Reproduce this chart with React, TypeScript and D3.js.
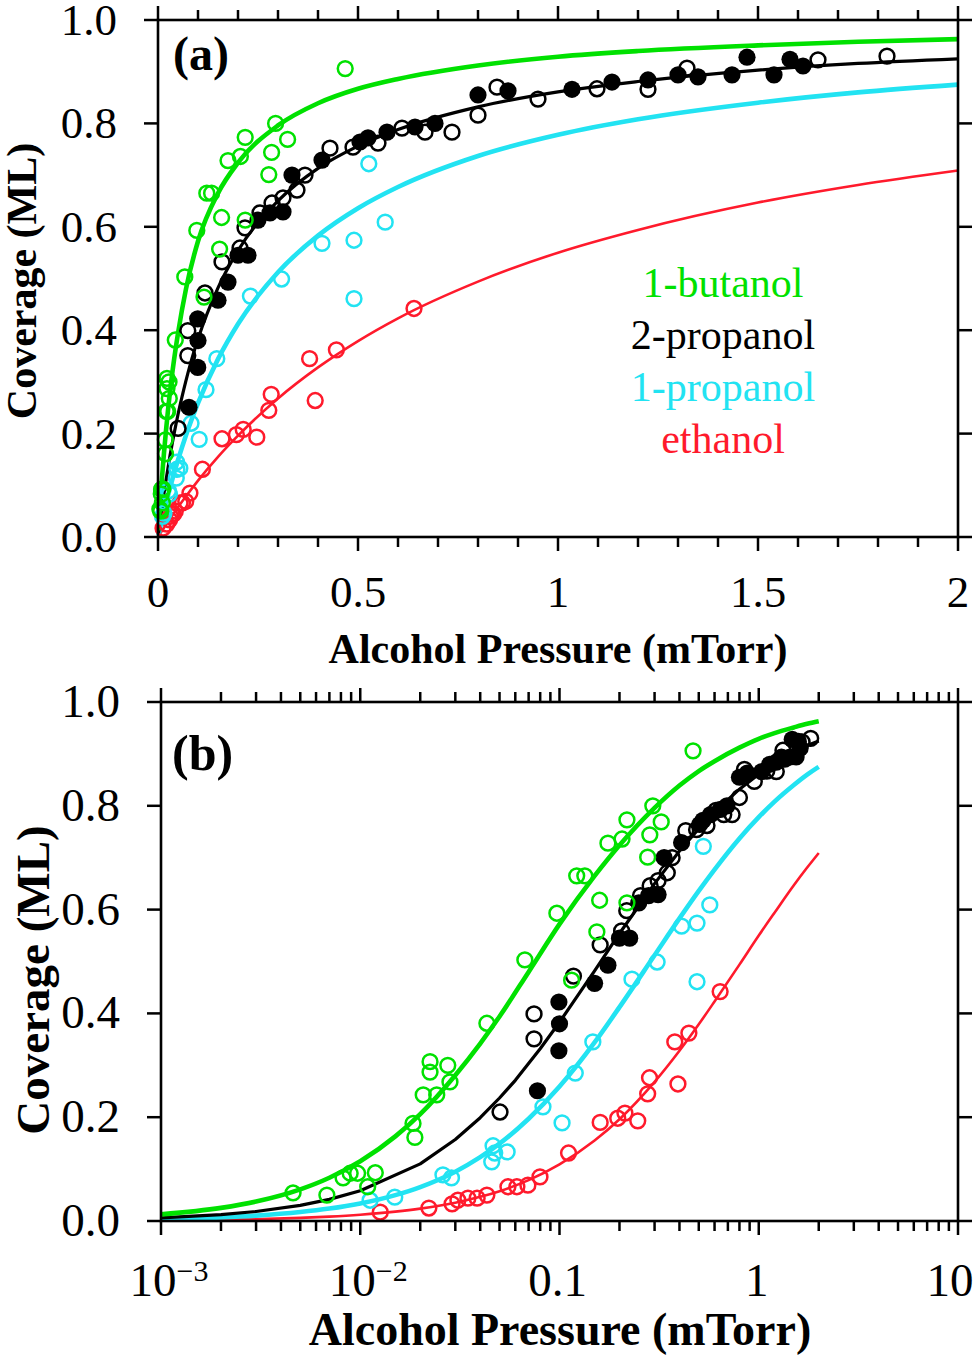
import React from 'react';
import * as d3 from 'd3';

// ---------- fitted curves ----------
const FIT_P = [0.001, 0.002, 0.003, 0.005, 0.007, 0.01, 0.015, 0.02, 0.03, 0.04, 0.05, 0.07, 0.1, 0.15, 0.2, 0.3, 0.4, 0.5, 0.6, 0.8, 1.0, 1.2, 1.5, 1.75, 2.0];
const BUTANOL_FIT = [0.0128, 0.0253, 0.0375, 0.061, 0.0834, 0.115, 0.163, 0.206, 0.281, 0.342, 0.394, 0.48, 0.572, 0.665, 0.724, 0.796, 0.839, 0.867, 0.886, 0.912, 0.929, 0.94, 0.951, 0.958, 0.963];
const PROPANOL1_FIT = [0.0035, 0.007, 0.0104, 0.0172, 0.0239, 0.0338, 0.0499, 0.0654, 0.095, 0.123, 0.149, 0.197, 0.259, 0.344, 0.412, 0.512, 0.583, 0.636, 0.677, 0.737, 0.778, 0.808, 0.84, 0.86, 0.875];
const ETHANOL_FIT = [0.0012, 0.0024, 0.0037, 0.0061, 0.0085, 0.0121, 0.018, 0.0238, 0.0353, 0.0465, 0.0575, 0.0787, 0.109, 0.155, 0.196, 0.268, 0.328, 0.379, 0.423, 0.494, 0.55, 0.594, 0.647, 0.681, 0.709];
const PROPANOL2_FIT_P = [0.001, 0.002, 0.003, 0.005, 0.007, 0.01, 0.02, 0.03, 0.04, 0.05, 0.06, 0.08, 0.1, 0.15, 0.2, 0.3, 0.4, 0.5, 0.6, 0.8, 1.0, 1.2, 1.5, 1.75, 2.0];
const PROPANOL2_FIT = [0.0062, 0.0122, 0.0183, 0.03, 0.0416, 0.0584, 0.11, 0.157, 0.199, 0.237, 0.271, 0.332, 0.383, 0.482, 0.554, 0.65, 0.713, 0.756, 0.788, 0.832, 0.861, 0.881, 0.903, 0.916, 0.925];

// ---------- measured points [pressure (mTorr), coverage (ML)] ----------
const BUTANOL_PTS: [number, number][] = [
  [0.0046, 0.054], [0.0068, 0.05], [0.0082, 0.083], [0.0089, 0.092], [0.0097, 0.092], [0.0109, 0.066],
  [0.0119, 0.093], [0.0184, 0.188], [0.0188, 0.161], [0.0207, 0.243], [0.0224, 0.307], [0.0224, 0.287],
  [0.0242, 0.243], [0.0275, 0.3], [0.0282, 0.268], [0.0432, 0.381], [0.067, 0.503], [0.097, 0.593],
  [0.115, 0.464], [0.122, 0.665], [0.134, 0.665], [0.154, 0.557], [0.159, 0.618], [0.175, 0.728],
  [0.206, 0.736], [0.218, 0.773], [0.218, 0.613], [0.277, 0.701], [0.284, 0.744], [0.294, 0.8],
  [0.324, 0.769], [0.468, 0.906],
];
const PROPANOL1_PTS: [number, number][] = [
  [0.0112, 0.04], [0.0149, 0.046], [0.026, 0.089], [0.0287, 0.083], [0.0457, 0.114], [0.0464, 0.145],
  [0.0473, 0.131], [0.0546, 0.133], [0.0826, 0.22], [0.103, 0.189], [0.12, 0.285], [0.147, 0.345],
  [0.231, 0.466], [0.309, 0.499], [0.41, 0.568], [0.49, 0.574], [0.49, 0.461], [0.527, 0.722], [0.568, 0.609],
];
const ETHANOL_PTS: [number, number][] = [
  [0.0126, 0.017], [0.0221, 0.025], [0.0289, 0.033], [0.0309, 0.04], [0.0347, 0.044], [0.0386, 0.044],
  [0.0432, 0.05], [0.0551, 0.066], [0.0611, 0.066], [0.0694, 0.069], [0.0798, 0.085], [0.111, 0.131],
  [0.16, 0.19], [0.196, 0.198], [0.213, 0.208], [0.247, 0.193], [0.277, 0.245], [0.283, 0.276],
  [0.379, 0.345], [0.393, 0.264], [0.446, 0.362], [0.64, 0.442],
];
const PROPANOL2_OPEN_PTS: [number, number][] = [
  [0.0503, 0.21], [0.0745, 0.399], [0.0745, 0.351], [0.1175, 0.472], [0.16, 0.532], [0.205, 0.559],
  [0.2175, 0.598], [0.255, 0.627], [0.285, 0.646], [0.3125, 0.656], [0.3475, 0.671], [0.3675, 0.7],
  [0.43, 0.752], [0.4875, 0.754], [0.55, 0.762], [0.61, 0.791], [0.6675, 0.783], [0.735, 0.783],
  [0.8, 0.816], [0.8475, 0.87], [0.95, 0.847], [1.0975, 0.867], [1.225, 0.866], [1.3225, 0.907],
  [1.65, 0.923], [1.8225, 0.93],
];
const PROPANOL2_FILLED_PTS: [number, number][] = [
  [0.0775, 0.251], [0.0993, 0.328], [0.1, 0.38], [0.0993, 0.422], [0.15, 0.458], [0.175, 0.493],
  [0.2, 0.545], [0.225, 0.545], [0.25, 0.613], [0.28, 0.627], [0.3125, 0.629], [0.335, 0.7],
  [0.41, 0.729], [0.505, 0.764], [0.525, 0.772], [0.5725, 0.783], [0.6425, 0.793], [0.6925, 0.8],
  [0.8, 0.855], [0.875, 0.863], [1.035, 0.866], [1.135, 0.88], [1.225, 0.884], [1.3, 0.894],
  [1.35, 0.89], [1.435, 0.894], [1.4725, 0.928], [1.54, 0.894], [1.58, 0.924], [1.6125, 0.911],
];

// ---------- axes ----------
const Y_TICKS = [0, 0.2, 0.4, 0.6, 0.8, 1.0];
const XA_MAJOR = [0, 0.5, 1, 1.5, 2];
const XA_LABELS = ['0', '0.5', '1', '1.5', '2'];
const XB_DECADES = [-3, -2, -1, 0, 1];
const XB_LABELS: [string, string][] = [['10', '−3'], ['10', '−2'], ['0.1', ''], ['1', ''], ['10', '']];
const LEGEND = ['1-butanol', '2-propanol', '1-propanol', 'ethanol'];

const GREEN = '#00e100';
const CYAN = '#22e3f2';
const RED = '#ff1a2c';
const BLACK = '#000000';
const FONT = '"Liberation Serif", "Times New Roman", Times, serif';

type Curve = { p: number[]; v: number[]; color: string; width: number; linearInLog?: boolean };
const CURVES: Curve[] = [
  { p: FIT_P, v: ETHANOL_FIT, color: RED, width: 2.6 },
  { p: FIT_P, v: PROPANOL1_FIT, color: CYAN, width: 4.6 },
  { p: PROPANOL2_FIT_P, v: PROPANOL2_FIT, color: BLACK, width: 3.2, linearInLog: true },
  { p: FIT_P, v: BUTANOL_FIT, color: GREEN, width: 4.6 },
];
type PtSet = { pts: [number, number][]; color: string; filled?: boolean };
const POINTS: PtSet[] = [
  { pts: ETHANOL_PTS, color: RED },
  { pts: PROPANOL1_PTS, color: CYAN },
  { pts: PROPANOL2_OPEN_PTS, color: BLACK },
  { pts: PROPANOL2_FILLED_PTS, color: BLACK, filled: true },
  { pts: BUTANOL_PTS, color: GREEN },
];

function Panel({ log }: { log: boolean }) {
  const top = log ? 702 : 20;
  const bottom = log ? 1221 : 537;
  const left = log ? 161 : 158;
  const right = 958;
  const x: any = log
    ? d3.scaleLog().domain([0.001, 10]).range([left, right])
    : d3.scaleLinear().domain([0, 2]).range([left, right]);
  const y = d3.scaleLinear().domain([0, 1]).range([bottom, top]);
  const tickFont = log ? 47 : 45;
  const titleFont = log ? 46 : 42;

  // x ticks
  const ticks: { v: number; major: boolean }[] = [];
  if (log) {
    XB_DECADES.forEach((d) => {
      ticks.push({ v: Math.pow(10, d), major: true });
      if (d < 1) for (let k = 2; k <= 9; k++) ticks.push({ v: k * Math.pow(10, d), major: false });
    });
  } else {
    d3.range(0, 21).forEach((i) => ticks.push({ v: i / 10, major: i % 5 === 0 }));
  }

  const labelShift = (i: number, sup: string) => (sup ? 8 : i === XB_DECADES.length - 1 ? -8 : -2);

  return (
    <g>
      {/* curves */}
      {CURVES.map((c, i) => {
        const gen = d3
          .line<number>()
          .x((_, j) => x(c.p[j]))
          .y((v) => y(v))
          .curve(log && c.linearInLog ? d3.curveLinear : d3.curveMonotoneX);
        return <path key={'c' + i} d={gen(c.v) || ''} fill="none" stroke={c.color} strokeWidth={c.width} strokeLinejoin="round" />;
      })}
      {/* points */}
      {POINTS.map((s, i) => (
        <g key={'p' + i}>
          {s.pts.map(([p, v], j) => (
            <circle
              key={j}
              cx={x(p)}
              cy={y(v)}
              r={s.filled ? 8.6 : 7.4}
              fill={s.filled ? s.color : 'none'}
              stroke={s.color}
              strokeWidth={s.filled ? 0 : 2.5}
            />
          ))}
        </g>
      ))}
      {/* frame */}
      <rect x={left} y={top} width={right - left} height={bottom - top} fill="none" stroke="#000" strokeWidth={2.6} />
      {/* y ticks */}
      {Y_TICKS.map((t) => (
        <g key={'y' + t}>
          <line x1={left - 14} x2={left} y1={y(t)} y2={y(t)} stroke="#000" strokeWidth={2.5} />
          <line x1={right} x2={right + 14} y1={y(t)} y2={y(t)} stroke="#000" strokeWidth={2.5} />
          <text x={log ? 120 : 117} y={y(t) + 15} textAnchor="end" fontFamily={FONT} fontSize={tickFont}>
            {d3.format('.1f')(t)}
          </text>
        </g>
      ))}
      {/* x ticks */}
      {ticks.map((t, i) => {
        const len = t.major ? 14 : 10;
        return (
          <g key={'x' + i}>
            <line x1={x(t.v)} x2={x(t.v)} y1={bottom} y2={bottom + len} stroke="#000" strokeWidth={2.5} />
            <line x1={x(t.v)} x2={x(t.v)} y1={top} y2={top - len} stroke="#000" strokeWidth={2.5} />
          </g>
        );
      })}
      {/* x tick labels */}
      {log
        ? XB_DECADES.map((d, i) => {
            const [base, sup] = XB_LABELS[i];
            return (
              <text key={'xl' + i} x={x(Math.pow(10, d)) + labelShift(i, sup)} y={1296} textAnchor="middle" fontFamily={FONT} fontSize={tickFont}>
                {base}
                {sup ? (
                  <tspan dy={-15} fontSize={30}>
                    {sup}
                  </tspan>
                ) : null}
              </text>
            );
          })
        : XA_MAJOR.map((v, i) => (
            <text key={'xl' + i} x={x(v)} y={607} textAnchor="middle" fontFamily={FONT} fontSize={tickFont}>
              {XA_LABELS[i]}
            </text>
          ))}
      {/* axis titles */}
      <text x={log ? 560 : 558} y={log ? 1345 : 663} textAnchor="middle" fontFamily={FONT} fontWeight="bold" fontSize={titleFont}>
        Alcohol Pressure (mTorr)
      </text>
      <text
        transform={`translate(${log ? 49 : 36},${log ? 980 : 281}) rotate(-90)`}
        textAnchor="middle"
        fontFamily={FONT}
        fontWeight="bold"
        fontSize={log ? 47 : 42}
      >
        Coverage (ML)
      </text>
      {/* panel label */}
      <text x={log ? 172 : 173} y={log ? 770 : 70} fontFamily={FONT} fontWeight="bold" fontSize={log ? 50 : 48}>
        {log ? '(b)' : '(a)'}
      </text>
      {/* legend */}
      {!log &&
        LEGEND.map((name, i) => (
          <text key={name} x={723} y={297 + i * 52} textAnchor="middle" fontFamily={FONT} fontSize={42} fill={[GREEN, BLACK, CYAN, RED][i]}>
            {name}
          </text>
        ))}
    </g>
  );
}

export default function App() {
  return (
    <svg
      width={975}
      height={1359}
      viewBox="0 0 975 1359"
      style={{ position: 'absolute', left: 0, top: 0, background: '#fff' }}
    >
      <rect x={0} y={0} width={975} height={1359} fill="#fff" />
      <Panel log={false} />
      <Panel log={true} />
    </svg>
  );
}
